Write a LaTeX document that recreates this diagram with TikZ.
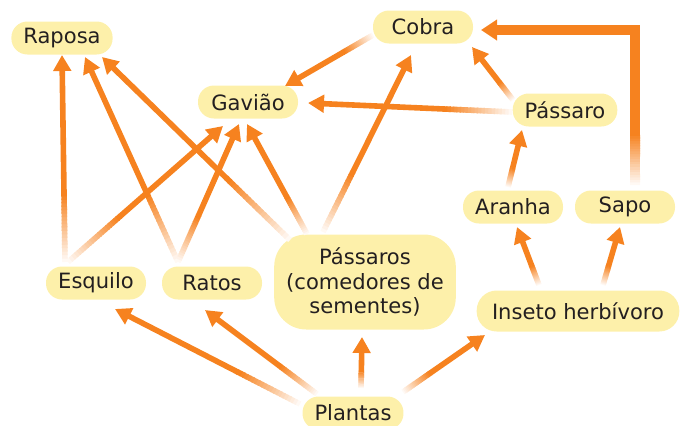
\documentclass[tikz,border=0pt]{standalone}
\usepackage{fontspec}
\setmainfont{DejaVu Sans}
\usetikzlibrary{arrows.meta, calc}

\definecolor{boxfill}{HTML}{FDF0AA}
\definecolor{feedc}{HTML}{F6821F}
\definecolor{ink}{HTML}{231F20}

% arrow from prey (#1) to eater (#2), faded at the tail
\newcommand{\feed}[2]{%
  \coordinate (t) at (#1);
  \coordinate (h) at (#2);
  \foreach \k [evaluate=\k as \posa using (\k-1)/60,
               evaluate=\k as \posb using (\k+0.4)/60] in {1,...,20}
    \draw[link, draw=feedc!\the\numexpr\k*5\relax!white]
      ($(t)!\posa!(h)$) -- ($(t)!\posb!(h)$);
  \draw[link, -{Triangle[width=13pt, length=12pt]}] ($(t)!1/3!(h)$) -- (h);
}

\begin{document}
\begin{tikzpicture}[
  x=0.75pt, y=-0.75pt,
  sp/.style={rectangle, rounded corners=12pt, fill=boxfill, text=ink,
             minimum width=75pt, minimum height=24.75pt, inner xsep=9pt,
             align=center, font=\fontsize{15.8}{18.4}\selectfont},
  link/.style={draw=feedc, line width=4.2pt}
]
\useasboundingbox (0,0) rectangle (681,425);

%% Animals and plants
\node[sp] at (62,38)   (rap) {Raposa};
\node[sp] at (423,27)  (cob) {Cobra};
\node[sp] at (248,102) (gav) {Gavião};
\node[sp] at (565,110) (pas) {Pássaro};
\node[sp] at (513,207) (ara) {Aranha};
\node[sp] at (625,207) (sap) {Sapo};
\node[sp] at (96,283)  (esq) {Esquilo};
\node[sp] at (212,283) (rat) {Ratos};
\node[sp, minimum width=124.5pt, minimum height=71.25pt, rounded corners=24pt]
  at (365,282) (sem) {Pássaros\\(comedores de\\sementes)};
\node[sp, minimum width=152pt, minimum height=30.75pt, rounded corners=15pt]
  at (578,311) (ins) {Inseto herbívoro};
\node[sp] at (353,413) (pla) {Plantas};

%% Who eats whom
\feed{$(esq)+(-31,-21)$}{$(rap)+(0,17)$}
\feed{$(rat)+(-34,-21)$}{$(rap)+(23,19)$}
\feed{$(sem)+(-75,-42)$}{$(rap)+(40,19)$}
\feed{$(esq)+(-28,-21)$}{$(gav)+(-25,24)$}
\feed{$(rat)+(-34,-21)$}{$(gav)+(-9,22)$}
\feed{$(sem)+(-58,-48)$}{$(gav)+(-1,22)$}
\feed{$(sem)+(-42,-50)$}{$(cob)+(-12,28)$}
\feed{$(cob)+(-50,8)$}{$(gav)+(37,-16)$}
\feed{$(pas)+(-53,2)$}{$(gav)+(60,1)$}
\feed{$(pas)+(-52,-10)$}{$(cob)+(49,20)$}
\feed{$(ara)+(-5,-20)$}{$(pas)+(-43,20)$}
\feed{$(ins)+(-39,-26)$}{$(ara)+(4,20)$}
\feed{$(ins)+(25,-26)$}{$(sap)+(-5,20)$}
\feed{$(pla)+(-53,-9)$}{$(esq)+(19,26)$}
\feed{$(pla)+(-36,-19)$}{$(rat)+(-7,27)$}
\feed{$(pla)+(8,-25)$}{$(sem)+(-3,55)$}
\feed{$(pla)+(50,-21)$}{$(ins)+(-93,24)$}

%% Sapo -> Cobra, with a bend
\coordinate (t) at ($(sap)+(10,-22)$);
\coordinate (h) at ($(cob)+(58,3)$);
\coordinate (k) at (t |- h);
\foreach \k [evaluate=\k as \posa using (\k-1)/60,
             evaluate=\k as \posb using (\k+0.4)/60] in {1,...,20}
  \draw[link, line width=7.5pt, draw=feedc!\the\numexpr\k*5\relax!white]
    ($(t)!\posa!(k)$) -- ($(t)!\posb!(k)$);
\draw[link, line width=7.5pt, -{Triangle[width=15pt, length=12pt]}]
  ($(t)!1/3!(k)$) |- (h);
\end{tikzpicture}
\end{document}
